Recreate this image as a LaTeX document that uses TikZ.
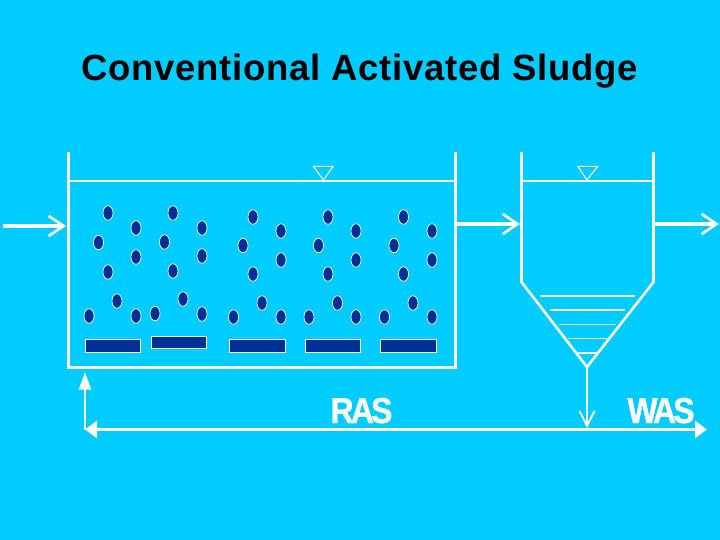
\documentclass[tikz,border=0pt]{standalone}
\usepackage{fontspec}
\setmainfont{Liberation Sans}
\usetikzlibrary{arrows.meta,shapes.geometric}
\definecolor{bgc}{HTML}{00CCFF}
\definecolor{dark}{HTML}{002F96}
\tikzset{
 x=1pt,y=-1pt,
 wall/.style={draw=white,line width=3pt,line cap=butt,line join=miter},
 thinw/.style={draw=white,line width=2pt},
 openarrow/.style={draw=white,line width=3.4pt,-{Straight Barb[length=15pt,width=20pt,line width=2.6pt]}},
 thinarrow/.style={draw=white,line width=1.8pt,-{Straight Barb[length=15pt,width=15pt,line width=1.8pt]}},
 solidh/.style={draw=white,line width=3pt,-{Triangle[length=12pt,width=17pt,fill=white]}},
 solidv/.style={draw=white,line width=1.8pt,-{Triangle[length=17pt,width=12pt,fill=white]}},
 bubble/.style={ellipse,draw=white,fill=dark,line width=0.7pt,minimum width=10pt,minimum height=14.5pt,inner sep=0pt,outer sep=0pt},
 bar/.style={draw=white,fill=dark,line width=0.9pt},
 level/.style={draw=white,line width=1.2pt},
 surf/.style={draw=white,line width=1pt,line join=miter},
 lab/.style={text=white,inner sep=0pt,xscale=0.89,font=\fontsize{36}{36}\selectfont\bfseries\addfontfeature{LetterSpace=-9,FakeBold=1}},
}
\begin{document}
\begin{tikzpicture}
\useasboundingbox (0,0) rectangle (720,540);
\fill[bgc] (0,0) rectangle (720,540);
\node[inner sep=0pt,anchor=base] (title) at (359.5,80.5) {\fontsize{36.5}{36.5}\selectfont\bfseries\addfontfeature{LetterSpace=2.05}Conventional Activated Sludge};
% aeration tank
\coordinate (atl) at (68.5,152); \coordinate (abl) at (68.5,367.5);
\coordinate (abr) at (455,367.5); \coordinate (atr) at (455,152);
\draw[wall] (atl) -- (abl) -- (abr) -- (atr);
\coordinate (awl) at (68.5,181); \coordinate (awr) at (455,181);
\draw[thinw] (awl) -- (awr);
\draw[surf] (313.5,166.5) -- (333,166.5) -- (323.5,180) -- cycle;
% clarifier
\coordinate (ctl) at (521.5,152); \coordinate (csl) at (521.5,282);
\coordinate (cap) at (587,367); \coordinate (csr) at (653.5,282); \coordinate (ctr) at (653.5,152);
\draw[wall,line width=2.6pt] (ctl) -- (csl) -- (cap) -- (csr) -- (ctr);
\coordinate (cwl) at (521.5,181); \coordinate (cwr) at (653.5,181);
\draw[thinw] (cwl) -- (cwr);
\draw[surf] (578,166.5) -- (597.5,166.5) -- (587,180) -- cycle;
\draw[level,line width=1.6pt] (540,295.7) -- (635,295.7);
\draw[level,line width=1.5pt] (550,310) -- (625,310);
\draw[level] (559,324.5) -- (616,324.5);
\draw[level] (568,338.5) -- (607,338.5);
\draw[level] (578,353) -- (597,353);
% flow arrows
\coordinate (in0) at (3,226); \coordinate (in1) at (66,226);
\draw[openarrow] (in0) -- (in1);
\coordinate (mid0) at (456,224); \coordinate (mid1) at (520,224);
\draw[openarrow] (mid0) -- (mid1);
\coordinate (out0) at (655,224); \coordinate (out1) at (719,224);
\draw[openarrow] (out0) -- (out1);
\coordinate (down1) at (587,428);
\draw[thinarrow] (cap) -- (down1);
\coordinate (retl) at (85,429.5); \coordinate (retr) at (707,429.5); \coordinate (retm) at (587,429.5);
\draw[solidh] (retm) -- (retr);
\draw[solidh] (retm) -- (retl);
\coordinate (rett) at (85,372.5);
\draw[solidv] (retl) -- (rett);
% labels
\node[lab,anchor=base] (ras) at (361.5,423) {RAS};
\node[lab,anchor=base] (was) at (661,423) {WAS};
% diffusers
\foreach \a/\b/\c/\d in {85/339.5/140.5/352,151/336/206/348,229.5/339.5/285.5/352.5,305.5/339.5/360.5/352.5,380.5/339.5/436/352.5}
  \draw[bar] (\a,\b) rectangle (\c,\d);
% bubbles
\foreach \x/\y [count=\i] in {108/213,136/228,173/213,202/228,98.5/242.5,136/257,164.5/242,202/256,108/272,173/271,117/301,183/299,89/316,136/316,155/313.5,202/314,
 253/217,281/231,243/245.5,281/260,253/274,262/303,233.5/317,281/317,
 328/217,356/231,318.5/245.5,356/260,328/274,337.5/303,309/317,356/317,
 403.5/217,432/231,394/245.5,432/260,403.5/274,413/303,384.5/317,432/317}
  \node[bubble] (b\i) at (\x,\y) {};
\end{tikzpicture}
\end{document}
